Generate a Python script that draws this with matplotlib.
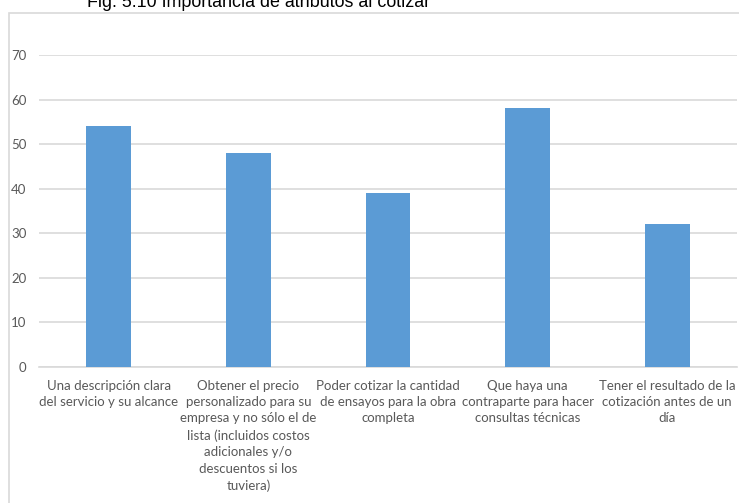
import matplotlib
matplotlib.use("Agg")
import matplotlib.pyplot as plt
from matplotlib.patches import Rectangle

title = "Fig. 5.10 Importancia de atributos al cotizar"
categories = [
    "Una descripción clara\ndel servicio y su alcance",
    "Obtener el precio\npersonalizado para su\nempresa y no sólo el de\nlista (incluidos costos\nadicionales y/o\ndescuentos si los\ntuviera)",
    "Poder cotizar la cantidad\nde ensayos para la obra\ncompleta",
    "Que haya una\ncontraparte para hacer\nconsultas técnicas",
    "Tener el resultado de la\ncotización antes de un\ndía",
]
values = [54, 48, 39, 58, 32]
y_ticks = [0, 10, 20, 30, 40, 50, 60, 70]

W, H = 739, 503
fig = plt.figure(figsize=(W / 100, H / 100), dpi=100)

# chart frame
fig.patches.append(Rectangle((8.5 / W, -0.05), 1.0, (H - 13) / H + 0.05,
                             transform=fig.transFigure, fill=False,
                             edgecolor="#D9D9D9", linewidth=1.2, zorder=0))

ax = fig.add_axes([39 / W, 1 - 367 / H, (737 - 39) / W, (367 - 55) / H])
x = list(range(len(categories)))
ax.bar(x, values, width=0.32, color="#5B9BD5", zorder=3)
ax.set_xlim(-0.5, len(categories) - 0.5)
ax.set_ylim(0, 70)
ax.set_yticks(y_ticks)
ax.grid(axis="y", color="#D9D9D9", linewidth=1.2, zorder=0)
for s in ["top", "right", "left"]:
    ax.spines[s].set_visible(False)
ax.spines["bottom"].set_color("#D9D9D9")
ax.spines["bottom"].set_linewidth(1.2)
ax.tick_params(axis="both", length=0, colors="#595959")
ax.tick_params(axis="y", pad=9, labelsize=9.5)
ax.set_xticks(x)
ax.set_xticklabels(categories, fontsize=9.5, family="Lato", linespacing=1.45)
for lab in ax.get_yticklabels():
    lab.set_family("Lato")
ax.tick_params(axis="x", pad=9)

fig.text(259 / W, 1 - 7 / H, title, ha="center", va="baseline",
         fontsize=12.9, family="Liberation Sans", color="#000000")

fig.savefig("out.png", dpi=100)
